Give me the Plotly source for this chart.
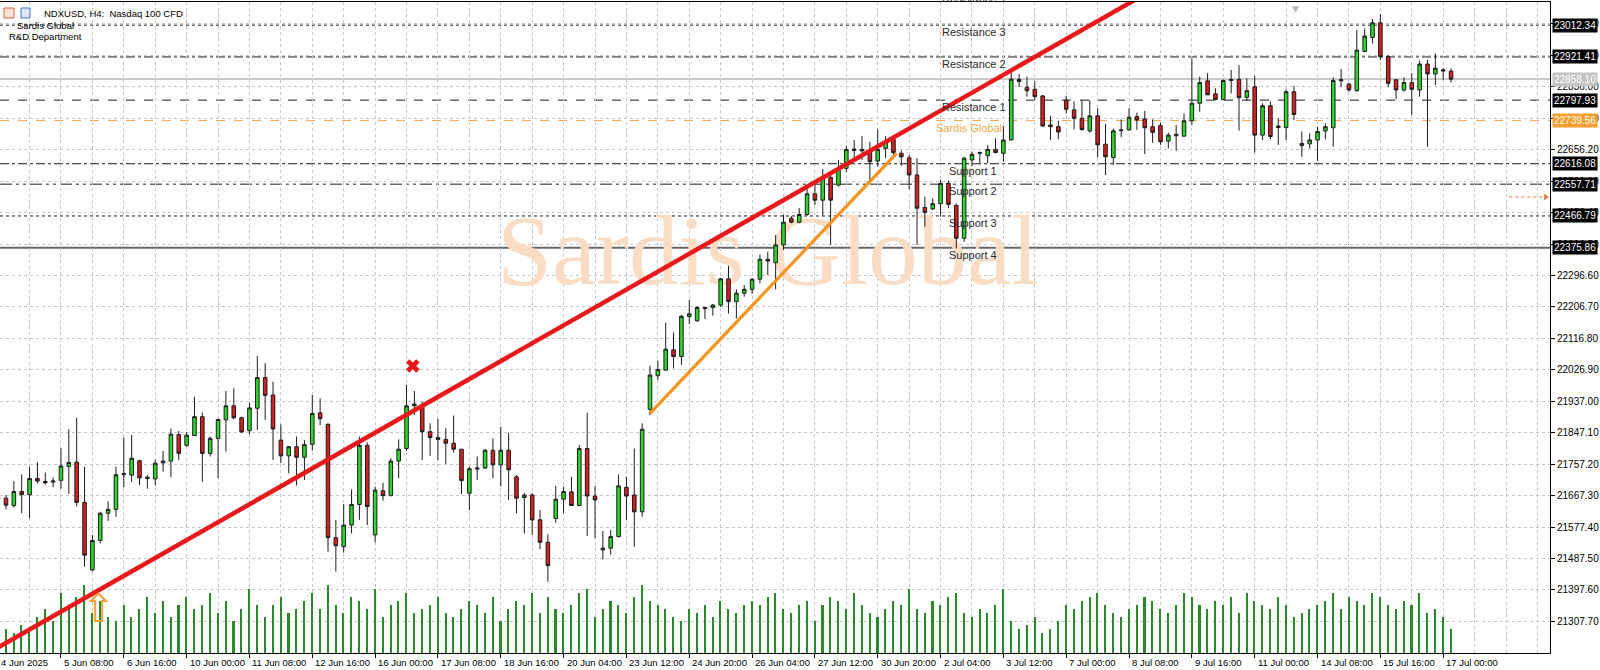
import plotly.graph_objects as go

# ---------------- data ----------------
x_tick_labels = ["4 Jun 2025", "5 Jun 08:00", "6 Jun 16:00", "10 Jun 00:00", "11 Jun 08:00",
                 "12 Jun 16:00", "16 Jun 00:00", "17 Jun 08:00", "18 Jun 16:00", "20 Jun 04:00",
                 "23 Jun 12:00", "24 Jun 20:00", "26 Jun 04:00", "27 Jun 12:00", "30 Jun 20:00",
                 "2 Jul 04:00", "3 Jul 12:00", "7 Jul 00:00", "8 Jul 08:00", "9 Jul 16:00",
                 "11 Jul 00:00", "14 Jul 08:00", "15 Jul 16:00", "17 Jul 00:00"]
bars_per_label = 8

y_tick_labels = ["21307.70", "21397.60", "21487.50", "21577.40", "21667.30", "21757.20",
                 "21847.10", "21937.00", "22026.90", "22116.80", "22206.70", "22296.60",
                 "22386.50", "22476.40", "22566.30", "22656.20", "22746.10", "22836.00",
                 "22925.90", "23015.80"]

opens = [21662, 21660, 21639, 21679, 21670, 21716, 21708, 21706, 21711, 21751,
         21763, 21648, 21455, 21539, 21617, 21628, 21727, 21726, 21767, 21720,
         21715, 21761, 21766, 21842, 21811, 21839, 21893, 21788, 21831, 21884,
         21924, 21890, 21853, 21917, 22005, 21955, 21826, 21781, 21807, 21777,
         21814, 21904, 21871, 21547, 21521, 21583, 21642, 21811, 21555, 21681,
         21667, 21766, 21802, 21924, 21924, 21850, 21833, 21828, 21817, 21800,
         21674, 21743, 21746, 21797, 21755, 21797, 21721, 21662, 21669, 21598,
         21534, 21602, 21657, 21678, 21639, 21802, 21666, 21512, 21517, 21550,
         21691, 21669, 21621, 21914, 22010, 22026, 22084, 22065, 22179, 22167,
         22202, 22205, 22212, 22287, 22222, 22246, 22257, 22286, 22343, 22333,
         22384, 22460, 22449, 22471, 22530, 22512, 22577, 22555, 22603, 22654,
         22657, 22653, 22624, 22660, 22686, 22646, 22633, 22584, 22491, 22487,
         22502, 22560, 22497, 22403, 22627, 22646, 22639, 22657, 22646, 22684,
         22857, 22835, 22829, 22810, 22727, 22722, 22798, 22770, 22746, 22710,
         22753, 22672, 22634, 22713, 22713, 22751, 22744, 22722, 22725, 22681,
         22696, 22695, 22739, 22789, 22853, 22816, 22800, 22854, 22857, 22806,
         22836, 22698, 22782, 22724, 22720, 22822, 22668, 22673, 22684, 22710,
         22719, 22853, 22844, 22825, 22937, 22977, 23019, 22922, 22856, 22827,
         22848, 22827, 22901, 22873, 22881, 22881]
highs = [21668, 21669, 21709, 21728, 21750, 21763, 21733, 21719, 21803, 21857,
         21890, 21750, 21555, 21621, 21651, 21750, 21833, 21841, 21770, 21726,
         21769, 21795, 21859, 21852, 21849, 21950, 21905, 21836, 21887, 21966,
         21974, 21893, 21933, 22066, 22046, 21993, 21871, 21809, 21836, 21826,
         21955, 21945, 21874, 21598, 21643, 21685, 21836, 21819, 21693, 21704,
         21774, 21828, 21984, 21966, 21936, 21874, 21887, 21860, 21896, 21800,
         21750, 21779, 21801, 21831, 21864, 21847, 21726, 21674, 21674, 21626,
         21557, 21695, 21693, 21721, 21812, 21904, 21695, 21566, 21569, 21728,
         21721, 21802, 21874, 22039, 22053, 22162, 22134, 22184, 22227, 22209,
         22207, 22215, 22289, 22324, 22257, 22269, 22289, 22357, 22365, 22412,
         22470, 22467, 22489, 22549, 22557, 22601, 22582, 22627, 22668, 22684,
         22695, 22679, 22714, 22695, 22692, 22654, 22641, 22632, 22522, 22517,
         22570, 22568, 22503, 22636, 22651, 22651, 22670, 22689, 22724, 22884,
         22873, 22865, 22851, 22813, 22753, 22739, 22810, 22794, 22798, 22798,
         22775, 22730, 22717, 22743, 22775, 22762, 22767, 22743, 22734, 22705,
         22727, 22760, 22917, 22865, 22875, 22832, 22857, 22884, 22898, 22860,
         22867, 22789, 22794, 22746, 22829, 22838, 22708, 22703, 22722, 22732,
         22863, 22887, 22846, 22998, 23003, 23030, 23044, 22927, 22858, 22863,
         22875, 22911, 22913, 22932, 22889, 22889]
lows = [21655, 21628, 21633, 21617, 21602, 21702, 21699, 21691, 21687, 21672,
        21636, 21464, 21450, 21531, 21595, 21607, 21691, 21706, 21698, 21687,
        21696, 21736, 21720, 21769, 21807, 21839, 21707, 21779, 21717, 21793,
        21885, 21847, 21843, 21855, 21884, 21769, 21760, 21731, 21696, 21712,
        21796, 21869, 21507, 21450, 21504, 21559, 21598, 21583, 21534, 21653,
        21667, 21717, 21795, 21898, 21769, 21781, 21769, 21758, 21790, 21672,
        21626, 21712, 21744, 21717, 21693, 21655, 21617, 21559, 21555, 21514,
        21421, 21590, 21617, 21638, 21638, 21552, 21545, 21485, 21498, 21548,
        21598, 21521, 21607, 21898, 21998, 22025, 22031, 22041, 22158, 22165,
        22172, 22182, 22207, 22188, 22174, 22236, 22244, 22274, 22298, 22257,
        22370, 22446, 22446, 22467, 22498, 22468, 22384, 22551, 22593, 22632,
        22627, 22560, 22608, 22632, 22641, 22610, 22543, 22384, 22436, 22484,
        22465, 22489, 22374, 22393, 22610, 22617, 22617, 22646, 22622, 22684,
        22835, 22808, 22798, 22722, 22684, 22686, 22760, 22714, 22710, 22705,
        22634, 22584, 22613, 22692, 22711, 22713, 22644, 22676, 22670, 22660,
        22653, 22694, 22727, 22765, 22813, 22798, 22798, 22817, 22711, 22796,
        22648, 22684, 22686, 22670, 22684, 22741, 22636, 22660, 22624, 22686,
        22665, 22835, 22822, 22822, 22937, 22960, 22913, 22835, 22800, 22822,
        22755, 22808, 22665, 22841, 22856, 22848]
closes = [21659, 21640, 21679, 21670, 21716, 21709, 21704, 21709, 21752, 21762,
          21648, 21497, 21539, 21617, 21628, 21727, 21730, 21774, 21718, 21716,
          21760, 21766, 21843, 21788, 21840, 21893, 21788, 21831, 21885, 21924,
          21890, 21849, 21918, 22005, 21954, 21858, 21781, 21807, 21777, 21813,
          21902, 21887, 21547, 21524, 21583, 21642, 21811, 21636, 21683, 21667,
          21766, 21800, 21924, 21929, 21850, 21833, 21828, 21817, 21800, 21710,
          21744, 21746, 21797, 21755, 21797, 21741, 21660, 21669, 21598, 21534,
          21467, 21657, 21679, 21639, 21802, 21666, 21655, 21517, 21550, 21695,
          21666, 21621, 21857, 22012, 22028, 22086, 22065, 22180, 22187, 22205,
          22205, 22212, 22287, 22222, 22246, 22257, 22286, 22343, 22338, 22384,
          22449, 22449, 22471, 22530, 22512, 22577, 22512, 22603, 22657, 22658,
          22653, 22622, 22657, 22679, 22648, 22636, 22584, 22489, 22477, 22502,
          22560, 22500, 22403, 22632, 22643, 22648, 22657, 22648, 22684, 22858,
          22851, 22825, 22808, 22724, 22722, 22707, 22772, 22746, 22714, 22753,
          22670, 22636, 22710, 22711, 22749, 22741, 22719, 22706, 22679, 22698,
          22700, 22739, 22789, 22848, 22813, 22800, 22854, 22857, 22805, 22825,
          22698, 22782, 22694, 22720, 22822, 22757, 22674, 22684, 22708, 22722,
          22854, 22856, 22827, 22941, 22981, 23019, 22922, 22846, 22827, 22848,
          22829, 22901, 22873, 22889, 22884, 22858]
volumes = [4000, 6000, 5000, 7000, 6000, 9000, 11000, 8000,
           15000, 12000, 14000, 17000, 10000, 13000, 9000, 8000,
           12000, 9000, 11000, 14000, 10000, 13000, 9000, 12000,
           14000, 11000, 12000, 15000, 10000, 13000, 8000, 11000,
           16000, 12000, 9000, 12000, 14000, 10000, 11000, 13000,
           15000, 11000, 17000, 12000, 10000, 14000, 13000, 11000,
           16000, 9000, 12000, 13000, 15000, 10000, 11000, 12000,
           14000, 10000, 9000, 11000, 13000, 12000, 10000, 14000,
           8000, 11000, 13000, 12000, 15000, 10000, 14000, 11000,
           10000, 12000, 15000, 16000, 9000, 11000, 13000, 12000,
           10000, 14000, 17000, 13000, 12000, 11000, 9000, 8000,
           11000, 10000, 12000, 9000, 13000, 11000, 10000, 12000,
           13000, 12000, 14000, 15000, 11000, 10000, 12000, 13000,
           8000, 12000, 14000, 13000, 11000, 15000, 12000, 10000,
           9000, 11000, 13000, 12000, 16000, 11000, 10000, 13000,
           12000, 14000, 15000, 10000, 9000, 11000, 10000, 12000,
           16000, 8000, 6000, 7000, 9000, 5000, 6000, 8000,
           12000, 11000, 13000, 14000, 15000, 12000, 10000, 9000,
           11000, 12000, 14000, 13000, 11000, 10000, 12000, 15000,
           14000, 12000, 11000, 13000, 12000, 14000, 10000, 15000,
           13000, 12000, 11000, 14000, 12000, 9000, 10000, 11000,
           12000, 13000, 15000, 11000, 14000, 13000, 12000, 15000,
           14000, 12000, 11000, 13000, 12000, 15000, 10000, 11000,
           9000, 6000]

# horizontal levels
level_prices = [23012.34, 22921.41, 22858.10, 22797.93, 22739.56, 22616.08, 22557.71, 22466.79, 22375.86]
level_names = ["Resistance 3", "Resistance 2", "", "Resistance 1", "Sardis Global",
               "Support 1", "Support 2", "Support 3", "Support 4"]
top_cut_label = "Resistance 4"

# trend lines (bar index, price) anchor points
red_trend_x = [33.34, 132.65]
red_trend_y = [21659.6, 22929.8]
orange_trend_x = [83.0, 114.4]
orange_trend_y = [21902.6, 22645.9]
cross_mark = (52.8, 22038)
arrow_mark = (12.8, 21346)
right_arrow_price = 22521

# ---------------- figure ----------------
n = len(opens)
idx = list(range(n))
X_MIN, X_MAX = 0.236, 197.6
Y_MIN, Y_MAX = 21217.3, 23078.5

fig = go.Figure()

fig.add_trace(go.Bar(x=idx, y=volumes, yaxis="y2", width=0.2,
                     marker=dict(color="#2a8a2a", line=dict(width=0)),
                     hoverinfo="skip", showlegend=False))

fig.add_trace(go.Candlestick(
    x=idx, open=opens, high=highs, low=lows, close=closes,
    increasing=dict(fillcolor="#2bd62b", line=dict(color="#1c1c1c", width=1)),
    decreasing=dict(fillcolor="#d31f1f", line=dict(color="#1c1c1c", width=1)),
    whiskerwidth=0, showlegend=False, hoverinfo="skip"))

fig.add_trace(go.Scatter(x=[cross_mark[0]], y=[cross_mark[1]], mode="markers",
                         marker=dict(symbol="x", size=12, color="#e8191b", line=dict(width=0)),
                         hoverinfo="skip", showlegend=False))

shapes = []
# watermark
shapes.append(dict(type="rect", xref="x", yref="y", x0=60, x1=136, y0=22280, y1=22520,
                   layer="between", line=dict(width=0), fillcolor="rgba(0,0,0,0)",
                   label=dict(text="Sardis Global", textposition="middle center",
                              font=dict(family="Liberation Serif", size=99, color="#f9dcc4"))))

dash_styles = ["dot", "dashdot", "solid", "dash", "dash", "dashdot", "12px,4px,3px,4px,3px,4px", "dot", "solid"]
line_colors = ["#1a1a1a", "#1a1a1a", "#c8c8c8", "#1a1a1a", "#f3a84a", "#1a1a1a", "#1a1a1a", "#1a1a1a", "#666666"]
line_widths = [1, 1, 2, 1, 1, 1, 1, 1, 2]
box_colors = ["#000000", "#000000", "#c4c4c4", "#000000", "#f5a02c", "#000000", "#000000", "#000000", "#000000"]
for p, d, c, w in zip(level_prices, dash_styles, line_colors, line_widths):
    shapes.append(dict(type="line", xref="paper", yref="y", x0=0, x1=1, y0=p, y1=p,
                       layer="between", line=dict(color=c, width=w, dash=d)))

# red trend line extended across the plot
slope = (red_trend_y[1] - red_trend_y[0]) / (red_trend_x[1] - red_trend_x[0])
rx0, rx1 = 0.0, 160.0
shapes.append(dict(type="line", xref="x", yref="y", x0=rx0,
                   y0=red_trend_y[0] + slope * (rx0 - red_trend_x[0]), x1=rx1,
                   y1=red_trend_y[0] + slope * (rx1 - red_trend_x[0]),
                   layer="above", line=dict(color="#e8191b", width=4.5)))
shapes.append(dict(type="line", xref="x", yref="y", x0=orange_trend_x[0], y0=orange_trend_y[0],
                   x1=orange_trend_x[1], y1=orange_trend_y[1],
                   layer="above", line=dict(color="#f7931e", width=3.2)))
# small dotted arrow at right
shapes.append(dict(type="line", xref="x", yref="y", x0=192.4, x1=196.7,
                   y0=right_arrow_price, y1=right_arrow_price,
                   layer="above", line=dict(color="#f07838", width=1, dash="dot")))


def px_x(px):
    return px / 1550.0


def px_y(py):
    return (653.0 - py) / 651.0


# header icons
shapes.append(dict(type="rect", xref="paper", yref="paper", x0=px_x(4), x1=px_x(14), y0=px_y(18), y1=px_y(8),
                   line=dict(color="#e0603a", width=1), fillcolor="#fbe3da"))
shapes.append(dict(type="rect", xref="paper", yref="paper", x0=px_x(21), x1=px_x(30), y0=px_y(18), y1=px_y(8),
                   line=dict(color="#3a6fcf", width=1), fillcolor="#dfe8fb"))

fig.add_trace(go.Scatter(x=[197.05], y=[right_arrow_price], mode="markers",
                         marker=dict(symbol="triangle-right", size=6, color="#f07838"),
                         cliponaxis=False, hoverinfo="skip", showlegend=False))

annotations = []
# x labels (left-aligned after the tick as in the terminal)
for k, lab in enumerate(x_tick_labels):
    xpos = max(k * bars_per_label, X_MIN)
    annotations.append(dict(x=xpos, y=0, xref="x", yref="paper", text=lab,
                            showarrow=False, xanchor="left", yanchor="top",
                            xshift=(1 if k else -1), yshift=-2,
                            font=dict(family="Liberation Sans", size=9.5, color="#000000")))
# right price boxes
for p, bc in zip(level_prices, box_colors):
    annotations.append(dict(x=1, y=p, xref="paper", yref="y", text=f"{p:.2f}", showarrow=False,
                            xanchor="left", yanchor="middle", xshift=2, bgcolor=bc, borderpad=1,
                            font=dict(family="Liberation Sans", size=10, color="#ffffff")))
# level names
for p, nm in zip(level_prices, level_names):
    if not nm:
        continue
    is_sup = nm.startswith("Support")
    col = "#f3a84a" if nm == "Sardis Global" else "#2a2a2a"
    xpos = 120.8 if is_sup else (119.2 if nm == "Sardis Global" else 119.9)
    annotations.append(dict(x=xpos, y=p, xref="x", yref="y", text=nm, showarrow=False,
                            xanchor="left", yanchor="middle", yshift=-7,
                            font=dict(family="Liberation Sans", size=11, color=col)))
# label of a level above the visible range (only its bottom edge shows)
annotations.append(dict(x=119.9, y=1, xref="x", yref="paper", text=top_cut_label, showarrow=False,
                        xanchor="left", yanchor="middle", yshift=4,
                        font=dict(family="Liberation Sans", size=11, color="#2a2a2a")))
# up arrow
annotations.append(dict(x=arrow_mark[0], y=arrow_mark[1], xref="x", yref="y", text="⇧", showarrow=False,
                        font=dict(family="DejaVu Sans", size=40, color="#f5a030")))
# small gray marker at top
annotations.append(dict(x=165.2, y=1, xref="x", yref="paper", text="▼", showarrow=False,
                        yanchor="top", font=dict(family="DejaVu Sans", size=9, color="#b8b8b8")))
# header texts
annotations.append(dict(x=px_x(42), y=px_y(13), xref="paper", yref="paper",
                        text="NDXUSD, H4:  Nasdaq 100 CFD", showarrow=False, xanchor="left", yanchor="middle",
                        font=dict(family="Liberation Sans", size=9.5, color="#000000")))
annotations.append(dict(x=px_x(15), y=px_y(25), xref="paper", yref="paper",
                        text="Sardis Global", showarrow=False, xanchor="left", yanchor="middle",
                        font=dict(family="Liberation Sans", size=9.5, color="#000000")))
annotations.append(dict(x=px_x(7), y=px_y(36), xref="paper", yref="paper",
                        text="R&amp;D Department", showarrow=False, xanchor="left", yanchor="middle",
                        font=dict(family="Liberation Sans", size=9.5, color="#000000")))

y_vals = [float(t) for t in y_tick_labels]

fig.update_layout(
    width=1600, height=670,
    margin=dict(l=0, r=50, t=2, b=17),
    paper_bgcolor="#ffffff", plot_bgcolor="#ffffff",
    showlegend=False, boxgap=0.35, bargap=0,
    shapes=shapes, annotations=annotations,
    xaxis=dict(range=[X_MIN, X_MAX], rangeslider=dict(visible=False),
               tickvals=[k * bars_per_label for k in range(len(x_tick_labels))],
               showticklabels=False, ticks="outside", ticklen=4, tickcolor="#000000",
               showgrid=True, gridcolor="#c6c6c6", griddash="3px,3px", gridwidth=1,
               minor=dict(tick0=0, dtick=4, showgrid=True, gridcolor="#c6c6c6",
                          griddash="3px,3px", ticks=""),
               showline=True, linecolor="#000000", linewidth=1, mirror=True, zeroline=False),
    yaxis=dict(range=[Y_MIN, Y_MAX], side="right", tickvals=y_vals, ticktext=y_tick_labels,
               ticks="outside", ticklen=4, tickcolor="#000000",
               tickfont=dict(family="Liberation Sans", size=10, color="#000000"),
               showgrid=True, gridcolor="#c6c6c6", griddash="3px,3px", gridwidth=1,
               showline=True, linecolor="#000000", linewidth=1, zeroline=False),
    yaxis2=dict(overlaying="y", range=[0, 162750], visible=False, fixedrange=True),
)

fig.write_html("out.html", config={"displayModeBar": False},
               post_script="document.body.style.margin='0px';document.body.style.padding='0px';document.body.style.overflow='hidden';")
